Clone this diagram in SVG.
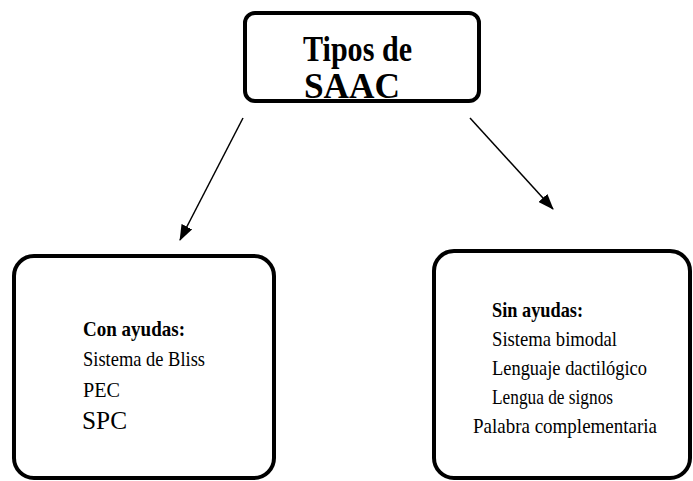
<svg xmlns="http://www.w3.org/2000/svg" width="693" height="481" viewBox="0 0 693 481">
<style>
.box{fill:#fff;stroke:#000;stroke-width:4}
.t{font-family:"Liberation Serif","Times New Roman",serif;fill:#000}
.title{font-size:35px;font-weight:bold}
.h{font-size:22px;font-weight:bold}
.n{font-size:22px}
.conn{stroke:#000;stroke-width:1.5;fill:none;marker-end:url(#arr)}
</style>
<defs>
<marker id="arr" markerUnits="userSpaceOnUse" viewBox="0 0 16 12" markerWidth="16" markerHeight="12" refX="15" refY="6" orient="auto">
<path d="M0,0 L16,6 L0,12 Z" fill="#000"/>
</marker>
</defs>
<g id="node-tipos">
<rect class="box" x="245" y="13" width="234" height="88" rx="10" stroke-width="3.5"/>
<text class="t title" x="303" y="61" textLength="109" lengthAdjust="spacingAndGlyphs">Tipos de</text>
<text class="t title" x="304" y="98" textLength="96" lengthAdjust="spacingAndGlyphs">SAAC</text>
</g>
<g id="node-con">
<rect class="box" x="14" y="256" width="260" height="222" rx="20"/>
<text class="t h" x="83" y="336" textLength="102" lengthAdjust="spacingAndGlyphs">Con ayudas:</text>
<text class="t n" x="83" y="366" textLength="122" lengthAdjust="spacingAndGlyphs">Sistema de Bliss</text>
<text class="t n" x="83" y="397" textLength="37" lengthAdjust="spacingAndGlyphs">PEC</text>
<text class="t" style="font-size:26px" x="82" y="429" textLength="45" lengthAdjust="spacingAndGlyphs">SPC</text>
</g>
<g id="node-sin">
<rect class="box" x="434" y="251" width="256" height="227" rx="20"/>
<text class="t h" x="492" y="317" textLength="91" lengthAdjust="spacingAndGlyphs">Sin ayudas:</text>
<text class="t n" x="492" y="346" textLength="125" lengthAdjust="spacingAndGlyphs">Sistema bimodal</text>
<text class="t n" x="492" y="375" textLength="155" lengthAdjust="spacingAndGlyphs">Lenguaje dactilógico</text>
<text class="t n" x="492" y="404" textLength="121" lengthAdjust="spacingAndGlyphs">Lengua de signos</text>
<text class="t n" x="473" y="433" textLength="184" lengthAdjust="spacingAndGlyphs">Palabra complementaria</text>
</g>
<g id="connectors">
<line class="conn" x1="243" y1="118" x2="180" y2="240"/>
<line class="conn" x1="470" y1="118" x2="553" y2="209"/>
</g>
</svg>
